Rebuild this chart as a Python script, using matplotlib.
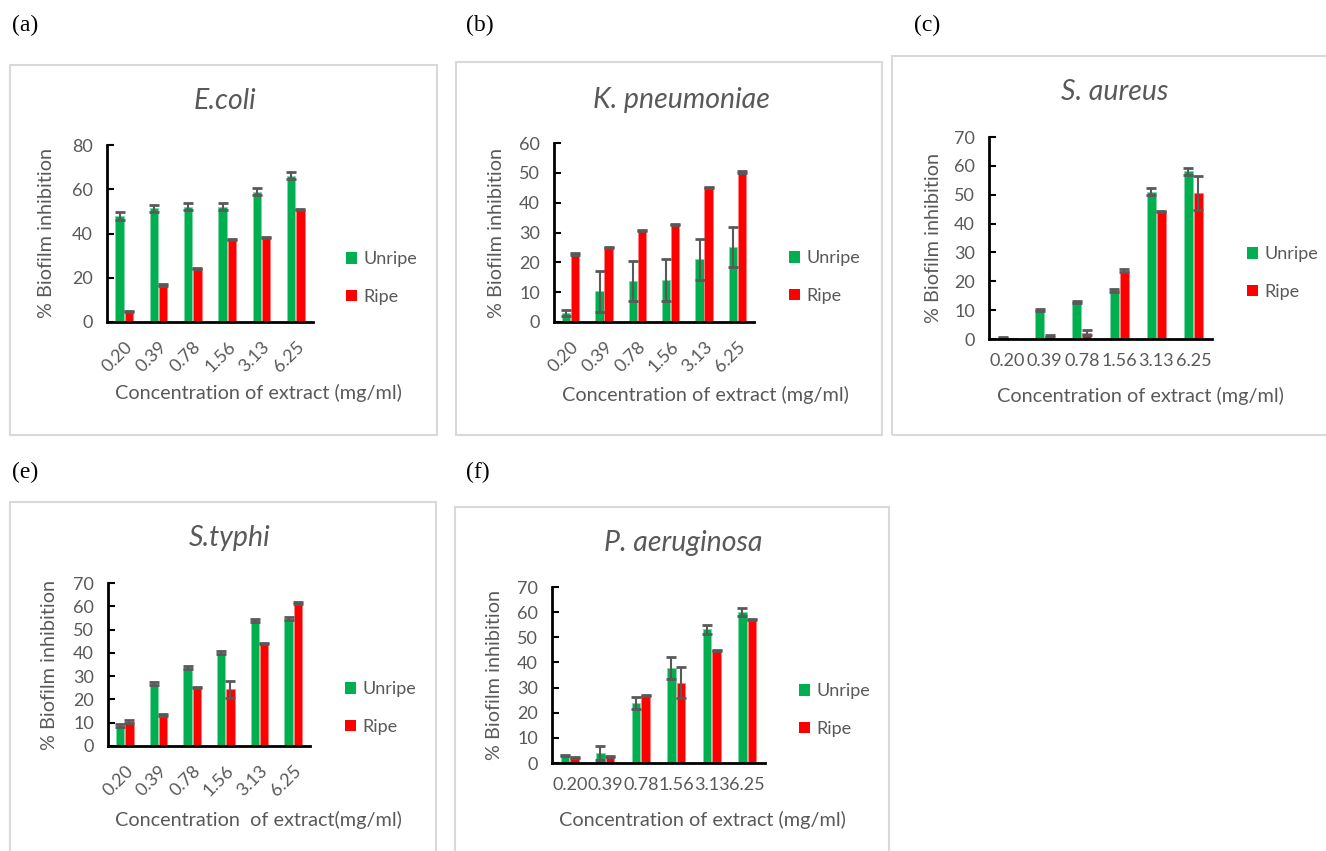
import matplotlib
matplotlib.use("Agg")
import matplotlib.pyplot as plt
from matplotlib.patches import Rectangle, Patch
import numpy as np

plt.rcParams['font.family'] = ['Lato', 'DejaVu Sans']

# Concentrations tested (mg/ml)
concentrations = ["0.20", "0.39", "0.78", "1.56", "3.13", "6.25"]

# % biofilm inhibition (mean) and error for each organism
ecoli_unripe = [47.9, 51.4, 52.2, 52.2, 58.8, 66.2]
ecoli_unripe_err = [1.6, 1.6, 1.6, 1.6, 1.6, 1.4]
ecoli_ripe = [4.7, 16.7, 24.2, 37.2, 38.3, 50.8]
ecoli_ripe_err = [0.3, 0.3, 0.3, 0.3, 0.3, 0.3]

kpn_unripe = [3.1, 10.3, 13.8, 14.1, 21.0, 25.3]
kpn_unripe_err = [1.0, 6.8, 6.8, 6.9, 6.8, 6.7]
kpn_ripe = [22.8, 25.0, 30.7, 32.6, 45.1, 50.3]
kpn_ripe_err = [0.2, 0.2, 0.2, 0.2, 0.2, 0.2]

saureus_unripe = [0.5, 10.0, 12.9, 16.9, 51.0, 58.1]
saureus_unripe_err = [0.2, 0.4, 0.4, 0.6, 1.2, 1.2]
saureus_ripe = [0.0, 1.0, 2.2, 23.6, 44.2, 50.6]
saureus_ripe_err = [0.0, 0.3, 0.9, 0.5, 0.2, 5.9]

styphi_unripe = [8.7, 26.7, 33.6, 40.1, 54.0, 54.7]
styphi_unripe_err = [0.6, 0.7, 0.6, 0.6, 0.6, 0.7]
styphi_ripe = [10.4, 13.3, 25.0, 24.4, 44.0, 61.4]
styphi_ripe_err = [0.6, 0.3, 0.3, 3.6, 0.4, 0.5]

pae_unripe = [2.9, 3.9, 23.9, 37.9, 53.1, 60.2]
pae_unripe_err = [0.3, 2.8, 2.4, 4.3, 1.9, 1.6]
pae_ripe = [2.0, 2.4, 26.8, 32.0, 44.8, 57.2]
pae_ripe_err = [0.2, 0.2, 0.2, 6.3, 0.2, 0.2]

GREEN = "#00B050"
RED = "#FF0000"
GREY = "#595959"

W, H = 1326, 851
fig = plt.figure(figsize=(W / 100, H / 100), dpi=100)


def fx(px):
    return px / W


def fy(py):
    return 1 - py / H


def panel(box, axrect, title, title_xy, unripe, unripe_err, ripe, ripe_err,
          ymax, ystep, rotate, xlabel, xlabel_xy, ylabel_x, legend_xy, tag, tag_xy):
    # panel frame
    bx0, by0, bx1, by1 = box
    fig.patches.append(Rectangle((fx(bx0), fy(by1)), fx(bx1 - bx0), (by1 - by0) / H,
                                 transform=fig.transFigure, fill=False,
                                 edgecolor="#D9D9D9", linewidth=1.5))
    fig.text(fx(tag_xy[0]), fy(tag_xy[1]), tag, family="Liberation Serif",
             fontsize=17, ha="center", va="center", color="black")

    l, t, r, b = axrect
    ax = fig.add_axes([fx(l), fy(b), fx(r - l), (b - t) / H])
    x = np.arange(len(concentrations))
    w = 0.245
    ek = dict(ecolor=GREY, elinewidth=1.5, capsize=3.5, capthick=2)
    ax.bar(x - 0.135, unripe, w, color=GREEN, edgecolor="#7fd8a7", linewidth=0.6,
           yerr=unripe_err, error_kw=ek, label="Unripe", zorder=2)
    ax.bar(x + 0.135, ripe, w, color=RED, edgecolor="#ff8080", linewidth=0.6,
           yerr=ripe_err, error_kw=ek, label="Ripe", zorder=2)
    ax.set_xlim(-0.5, len(concentrations) - 0.5)
    ax.set_ylim(0, ymax)
    ax.set_yticks(np.arange(0, ymax + 0.1, ystep))
    ax.set_xticks(x)
    if rotate:
        ax.set_xticklabels(concentrations, rotation=45, ha="right",
                           rotation_mode="anchor")
    else:
        ax.set_xticklabels(concentrations)
    for s in ("top", "right"):
        ax.spines[s].set_visible(False)
    for s in ("left", "bottom"):
        ax.spines[s].set_linewidth(2)
        ax.spines[s].set_color("black")
    ax.tick_params(axis="y", direction="in", length=5, width=1.5, colors="black",
                   labelcolor=GREY, labelsize=13, pad=10)
    ax.tick_params(axis="x", length=0, labelcolor=GREY, labelsize=13,
                   pad=12 if rotate else 10)

    fig.text(fx(title_xy[0]), fy(title_xy[1]), title, fontsize=20.5, style="italic",
             color=GREY, ha="center", va="center")
    fig.text(fx(xlabel_xy[0]), fy(xlabel_xy[1]), xlabel, fontsize=14.3,
             color=GREY, ha="center", va="center")
    fig.text(fx(ylabel_x), fy((t + b) / 2), "% Biofilm inhibition", fontsize=14.3,
             color=GREY, ha="center", va="center", rotation=90)

    handles = [Patch(facecolor=GREEN), Patch(facecolor=RED)]
    fig.legend(handles, ["Unripe", "Ripe"], loc="center left",
               bbox_to_anchor=(fx(legend_xy[0]), fy(legend_xy[1])),
               frameon=False, handlelength=0.62, handleheight=0.62,
               handletextpad=0.35, labelspacing=1.2, fontsize=13,
               labelcolor=GREY, borderaxespad=0, borderpad=0)
    return ax


panel((10, 65, 437, 435), (107, 145, 313, 322), "E.coli", (225, 101),
      ecoli_unripe, ecoli_unripe_err, ecoli_ripe, ecoli_ripe_err,
      80, 20, True, "Concentration of extract (mg/ml)", (258, 393), 47,
      (346, 278), "(a)", (25, 25))

panel((456, 62, 882, 435), (554, 143, 754, 322), "K. pneumoniae", (681, 100),
      kpn_unripe, kpn_unripe_err, kpn_ripe, kpn_ripe_err,
      60, 10, True, "Concentration of extract (mg/ml)", (705, 395), 497,
      (789, 277), "(b)", (480, 25))

panel((892, 56, 1340, 435), (989, 137, 1212, 339), "S. aureus", (1115, 92),
      saureus_unripe, saureus_unripe_err, saureus_ripe, saureus_ripe_err,
      70, 10, False, "Concentration of extract (mg/ml)", (1140, 396), 933,
      (1247, 273), "(c)", (927, 25))

panel((10, 502, 436, 860), (108, 583, 310, 746), "S.typhi", (230, 538),
      styphi_unripe, styphi_unripe_err, styphi_ripe, styphi_ripe_err,
      70, 10, True, "Concentration  of extract(mg/ml)", (258, 820), 50,
      (345, 708), "(e)", (25, 472))

panel((455, 507, 889, 860), (552, 587, 765, 763), "P. aeruginosa", (683, 543),
      pae_unripe, pae_unripe_err, pae_ripe, pae_ripe_err,
      70, 10, False, "Concentration of extract (mg/ml)", (702, 820), 495,
      (799, 710), "(f)", (478, 472))

fig.savefig("out.png", dpi=100, facecolor="white")
